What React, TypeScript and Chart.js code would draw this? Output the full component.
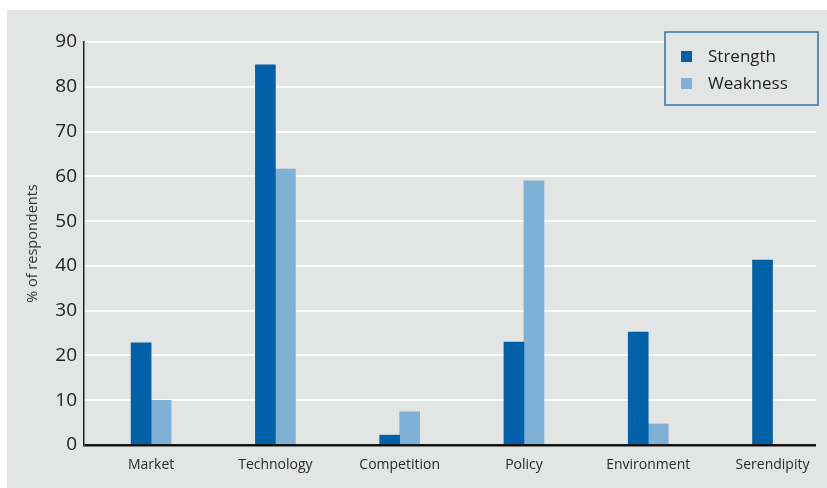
import React, { useEffect, useRef } from "react";
import { Chart, registerables } from "chart.js";

Chart.register(...registerables);

const categories = ["Market", "Technology", "Competition", "Policy", "Environment", "Serendipity"];
const strength = [22.8, 84.9, 2.2, 23.0, 25.2, 41.3];
const weakness = [10.0, 61.6, 7.4, 59.0, 4.7, null];
const yTicks = [0, 10, 20, 30, 40, 50, 60, 70, 80, 90];

const STRENGTH_COLOR = "#0061a8";
const WEAKNESS_COLOR = "#80b0d6";
const PANEL_BG = "#e3e4e4";
const FONT = "'Open Sans', 'Noto Sans', sans-serif";

const legendItems = [
  { label: "Strength", color: STRENGTH_COLOR },
  { label: "Weakness", color: WEAKNESS_COLOR },
];

// Boxed legend in the upper right corner of the plot
const boxLegend = {
  id: "boxLegend",
  afterDraw(chart: any) {
    const ctx = chart.ctx;
    const x = 658;
    const y = 22;
    const w = 153;
    const h = 73;
    ctx.save();
    ctx.fillStyle = PANEL_BG;
    ctx.fillRect(x, y, w, h);
    ctx.strokeStyle = "#2f72b0";
    ctx.lineWidth = 1.5;
    ctx.strokeRect(x, y, w, h);
    ctx.font = `17px ${FONT}`;
    ctx.textBaseline = "middle";
    legendItems.forEach((item, i) => {
      const cy = y + 25 + i * 27;
      ctx.fillStyle = item.color;
      ctx.fillRect(x + 16, cy - 6, 11, 11);
      ctx.fillStyle = "#222";
      ctx.fillText(item.label, x + 43, cy);
    });
    ctx.restore();
  },
};

export default function App() {
  const canvasRef = useRef<HTMLCanvasElement | null>(null);

  useEffect(() => {
    if (!canvasRef.current) return;
    const toPoints = (vals: (number | null)[]) =>
      vals.map((v, i) => ({ x: i, y: v }));

    const chart = new Chart(canvasRef.current, {
      type: "bar",
      data: {
        datasets: [
          {
            label: "Strength",
            data: toPoints(strength) as any,
            backgroundColor: STRENGTH_COLOR,
            barThickness: 20,
          },
          {
            label: "Weakness",
            data: toPoints(weakness) as any,
            backgroundColor: WEAKNESS_COLOR,
            barThickness: 20,
          },
        ],
      },
      options: {
        animation: false,
        responsive: false,
        maintainAspectRatio: false,
        layout: { padding: { left: 0, right: 11, top: 32, bottom: 0 } },
        plugins: {
          legend: { display: false },
          tooltip: { enabled: false },
        },
        scales: {
          x: {
            type: "linear",
            min: -0.54,
            max: 5.35,
            offset: false,
            afterFit: (scale: any) => {
              scale.height = 43;
            },
            afterBuildTicks: (scale: any) => {
              scale.ticks = categories.map((_, i) => ({ value: i }));
            },
            ticks: {
              autoSkip: false,
              maxRotation: 0,
              padding: 12,
              color: "#2a2a2a",
              font: { family: FONT, size: 14 },
              callback: (v: any) => categories[Math.round(Number(v))] ?? "",
            },
            grid: { display: false, drawTicks: false },
            border: { display: false },
          },
          y: {
            min: 0,
            max: 90,
            afterFit: (scale: any) => {
              scale.width = 77;
            },
            afterBuildTicks: (scale: any) => {
              scale.ticks = yTicks.map((v) => ({ value: v }));
            },
            ticks: {
              padding: 7,
              color: "#222",
              font: { family: FONT, size: 19 },
            },
            title: {
              display: true,
              text: "% of respondents",
              color: "#333",
              font: { family: FONT, size: 14.5 },
              padding: { top: 17, bottom: 0 },
            },
            grid: {
              drawTicks: false,
              color: (c: any) => (c.tick && c.tick.value === 0 ? "#111" : "#ffffff"),
              lineWidth: (c: any) => (c.tick && c.tick.value === 0 ? 2.5 : 2),
            },
            border: { display: true, color: "#222", width: 1.5 },
          },
        },
      },
      plugins: [boxLegend],
    });
    return () => chart.destroy();
  }, []);

  return (
    <div
      style={{
        position: "fixed",
        left: 0,
        top: 0,
        width: 827,
        height: 488,
        background: "#ffffff",
      }}
    >
      <div
        style={{
          position: "absolute",
          left: 7,
          top: 10,
          width: 820,
          height: 478,
          background: PANEL_BG,
        }}
      >
        <canvas ref={canvasRef} width={820} height={478} style={{ display: "block" }} />
      </div>
    </div>
  );
}
